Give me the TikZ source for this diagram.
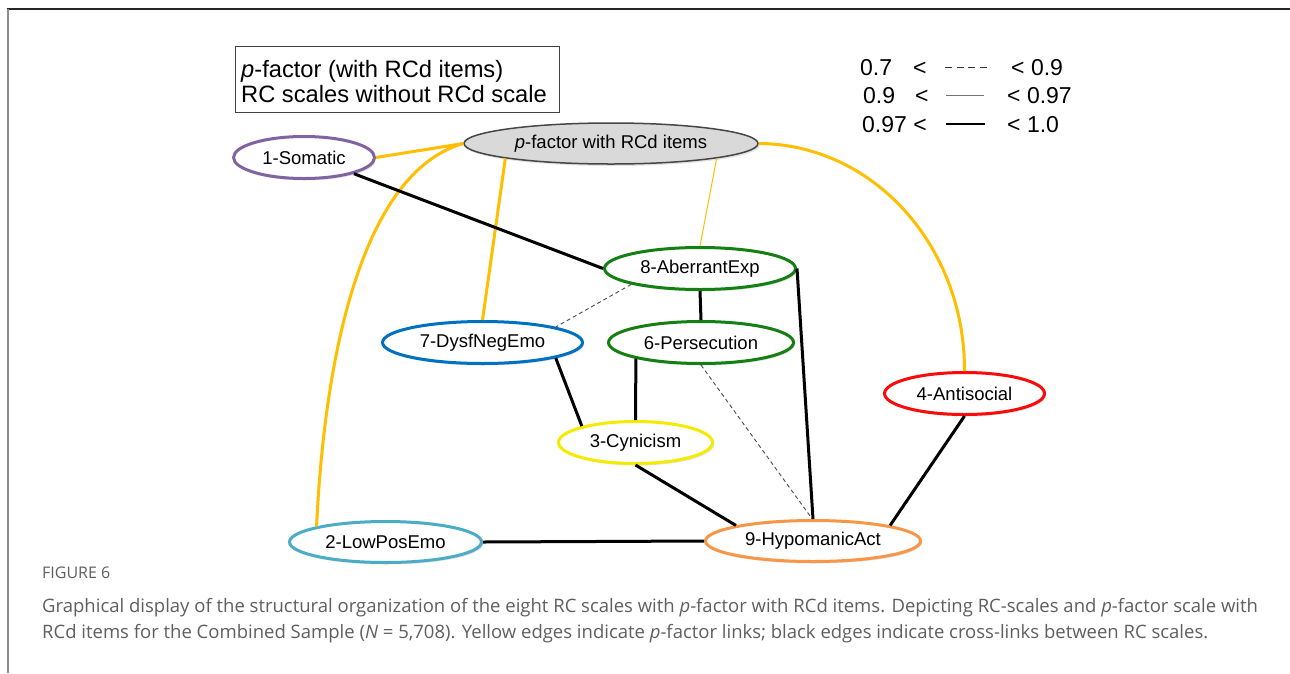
\documentclass[tikz,border=0pt]{standalone}
\usepackage{fontspec}
\setmainfont{Liberation Sans}
\newfontfamily\capfont{Open Sans}
\usetikzlibrary{shapes.geometric,shadows}
\definecolor{pyellow}{RGB}{255,190,0}
\definecolor{csom}{RGB}{128,100,162}
\definecolor{cgreen}{RGB}{20,128,20}
\definecolor{cblue}{RGB}{0,112,192}
\definecolor{cred}{RGB}{250,10,10}
\definecolor{cyel}{RGB}{245,235,0}
\definecolor{ccyan}{RGB}{75,172,198}
\definecolor{corange}{RGB}{247,150,70}
\definecolor{pffill}{RGB}{217,217,217}
\definecolor{pfdraw}{RGB}{70,70,70}
\definecolor{capgrey}{RGB}{95,95,95}
\tikzset{
  rc/.style={ellipse, draw, line width=3pt, fill=white, inner sep=0pt,
    font=\fontsize{18.5}{20}\selectfont,
    drop shadow={opacity=0.22, shadow xshift=1.5pt, shadow yshift=-2pt}},
  pedge/.style={draw=pyellow, line width=3pt},
  pthin/.style={draw=pyellow, line width=1pt},
  xedge/.style={draw=black, line width=3pt},
  dedge/.style={draw=black!70, line width=0.9pt, dash pattern=on 4pt off 3pt},
  legtext/.style={anchor=base west, inner sep=0pt, font=\fontsize{23}{26}\selectfont},
  boxtext/.style={anchor=base west, inner sep=0pt, font=\fontsize{23.7}{26}\selectfont},
  captext/.style={anchor=base west, inner sep=0pt, text=capgrey, font=\capfont\fontsize{18.5}{20}\selectfont},
}
\begin{document}
\begin{tikzpicture}[x=1pt,y=-1pt]
\useasboundingbox (0,0) rectangle (1290,673);
\fill[white] (0,0) rectangle (1290,673);
% frame
\draw[line width=1.5pt, black!85] (7,9) -- (1290,9);
\draw[line width=2pt, black!45] (7.5,9) -- (7.5,673);

% title box
\draw[line width=1pt, black!75] (235,46) rectangle (559,112);
\node[boxtext] (boxl1) at (241,77) {\textit{p}-factor (with RCd items)};
\node[boxtext] (boxl2) at (241,102) {RC scales without RCd scale};

% legend
\node[legtext] (lg1a) at (860,75) {0.7};
\node[legtext] (lg1b) at (913,75) {<};
\node[legtext] (lg1c) at (1011,75) {< 0.9};
\node[legtext] (lg2a) at (863,103) {0.9};
\node[legtext] (lg2b) at (915,103) {<};
\node[legtext] (lg2c) at (1007,103) {< 0.97};
\node[legtext] (lg3a) at (862,132) {0.97 <};
\node[legtext] (lg3c) at (1007,132) {< 1.0};
\coordinate (ld1s) at (945,67);  \coordinate (ld1e) at (988,67);
\coordinate (ld2s) at (946,95);  \coordinate (ld2e) at (984,95);
\coordinate (ld3s) at (946,124); \coordinate (ld3e) at (985,124);
\draw[line width=1pt, black!80, dash pattern=on 7pt off 4.5pt] (ld1s) -- (ld1e);
\draw[line width=1pt, black!55] (ld2s) -- (ld2e);
\draw[line width=2.5pt, black] (ld3s) -- (ld3e);

% nodes
\node[ellipse, draw=pfdraw, fill=pffill, line width=1.5pt, inner sep=0pt,
      minimum width=294pt, minimum height=41pt, font=\fontsize{18.5}{20}\selectfont,
      drop shadow={opacity=0.22, shadow xshift=1.5pt, shadow yshift=-2pt}]
      (pf) at (611,143.5) {\textit{p}-factor with RCd items};
\node[rc, draw=csom, minimum width=141pt, minimum height=42pt] (som) at (304,157.5) {1-Somatic};
\node[rc, draw=cgreen, minimum width=191pt, minimum height=42pt] (ab) at (700,268.5) {8-AberrantExp};
\node[rc, draw=cblue, minimum width=200pt, minimum height=42pt] (dys) at (482.5,342.5) {7-DysfNegEmo};
\node[rc, draw=cgreen, minimum width=185pt, minimum height=42pt] (per) at (701,342.5) {6-Persecution};
\node[rc, draw=cred, minimum width=160pt, minimum height=42pt] (ant) at (964.5,393.5) {4-Antisocial};
\node[rc, draw=cyel, minimum width=154pt, minimum height=42pt] (cyn) at (635.5,442.5) {3-Cynicism};
\node[rc, draw=ccyan, minimum width=192pt, minimum height=41pt] (lpe) at (385.5,542) {2-LowPosEmo};
\node[rc, draw=corange, minimum width=215pt, minimum height=41pt] (hyp) at (813,541) {9-HypomanicAct};

% p-factor links
\draw[pedge] (pf.west) -- (som.east);
\draw[pedge] (pf.west) .. controls (370,170) and (326,330) .. (lpe.north west);
\draw[pedge] (pf.188) -- (dys.north);
\draw[pthin] (pf.-8) -- (ab.north);
\draw[pedge] (pf.east) .. controls (873,144) and (965,246) .. (ant.north);

% cross links
\draw[xedge] (som.-18) -- (ab.west);
\draw[xedge] (ab.south) -- (per.north);
\draw[xedge] (ab.east) -- (hyp.north);
\draw[dedge] (ab.-167) -- (dys.12);
\draw[xedge] (dys.-12) -- (cyn.163);
\draw[xedge] (per.-166) -- (cyn.north);
\draw[dedge] (per.south) -- (hyp.92);
\draw[xedge] (cyn.south) -- (hyp.north west);
\draw[xedge] (ant.south) -- (hyp.north east);
\draw[xedge] (lpe.east) -- (hyp.west);

% caption
\node[anchor=base west, inner sep=0pt, text=capgrey, font=\capfont\fontsize{16}{18}\selectfont] (figlab) at (42,578) {FIGURE 6};
\node[captext] (cap1) at (42,612) {Graphical display of the structural organization of the eight RC scales with \textit{p}-factor with RCd items. Depicting RC-scales and \textit{p}-factor scale with};
\node[captext] (cap2) at (42,638) {RCd items for the Combined Sample (\textit{N} = 5,708). Yellow edges indicate \textit{p}-factor links; black edges indicate cross-links between RC scales.};
\end{tikzpicture}
\end{document}
